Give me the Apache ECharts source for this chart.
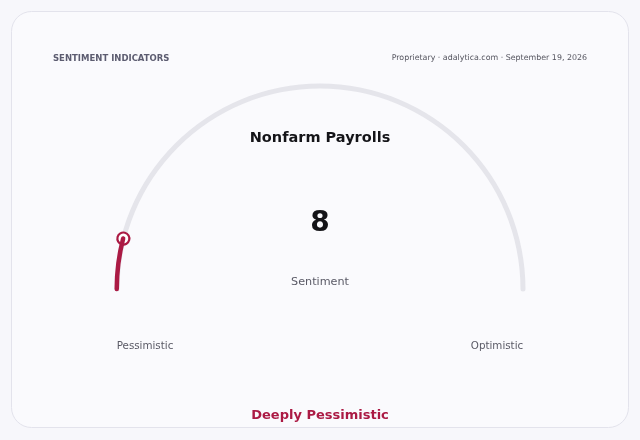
<!DOCTYPE html>
<html>
<head>
<meta charset="utf-8">
<script src="https://cdn.jsdelivr.net/npm/echarts@6/dist/echarts.min.js"></script>
<style>
  html, body { margin: 0; padding: 0; background: #f7f7fb; }
  #chart { width: 640px; height: 440px; }
</style>
</head>
<body>
<div id="chart"></div>
<script>
  // gauge data
  var indicatorName = 'Nonfarm Payrolls';
  var sentimentValue = 8;
  var scaleMin = 0;
  var scaleMax = 100;
  var endLabels = ['Pessimistic', 'Optimistic'];
  var verdict = 'Deeply Pessimistic';
  var headerLeft = 'SENTIMENT INDICATORS';
  var headerRight = 'Proprietary · adalytica.com · September 19, 2026';

  var accent = '#ab1a44';
  var font = 'DejaVu Sans';

  var chart = echarts.init(document.getElementById('chart'));
  chart.setOption({
    backgroundColor: '#f7f7fb',
    textStyle: { fontFamily: font },
    graphic: [
      {
        type: 'rect', z: -10,
        shape: { x: 11.5, y: 11.5, width: 617, height: 416, r: 20 },
        style: { fill: '#fafafd', stroke: '#e3e3ec', lineWidth: 1 }
      },
      {
        type: 'text', left: 53, top: 54,
        style: { text: headerLeft, font: 'bold 8.5px ' + font, fill: '#5c5c70' }
      },
      {
        type: 'text', right: 53, top: 54,
        style: { text: headerRight, font: '7.9px ' + font, fill: '#55555f' }
      },
      {
        type: 'text', left: 'center', top: 131,
        style: { text: indicatorName, font: 'bold 14.5px ' + font, fill: '#141418' }
      },
      {
        type: 'text', left: 'center', top: 277,
        style: { text: 'Sentiment', font: '11.2px ' + font, fill: '#5a5a66' }
      },
      {
        type: 'text', x: 145, y: 341.5,
        style: { text: endLabels[0], font: '10.3px ' + font, fill: '#5a5a66', align: 'center' }
      },
      {
        type: 'text', x: 497, y: 341.5,
        style: { text: endLabels[1], font: '10.3px ' + font, fill: '#5a5a66', align: 'center' }
      },
      {
        type: 'text', left: 'center', top: 409,
        style: { text: verdict, font: 'bold 13px ' + font, fill: accent }
      }
    ],
    series: [{
      type: 'gauge',
      center: [320, 289],
      radius: 205.5,
      startAngle: 180,
      endAngle: 0,
      min: scaleMin,
      max: scaleMax,
      axisLine: { roundCap: true, lineStyle: { width: 5, color: [[1, '#e5e5eb']] } },
      progress: { show: true, width: 4.5, roundCap: true, itemStyle: { color: accent } },
      pointer: {
        show: true,
        icon: 'circle',
        length: 12,
        width: 12,
        offsetCenter: [0, -197],
        itemStyle: { color: '#ffffff', borderColor: accent, borderWidth: 2.2 }
      },
      anchor: { show: false },
      axisTick: { show: false },
      splitLine: { show: false },
      axisLabel: { show: false },
      title: { show: false },
      detail: {
        offsetCenter: [0, -65],
        fontSize: 28,
        fontWeight: 'bold',
        fontFamily: font,
        color: '#141418',
        formatter: '{value}'
      },
      data: [{ value: sentimentValue }]
    }]
  });
</script>
</body>
</html>
